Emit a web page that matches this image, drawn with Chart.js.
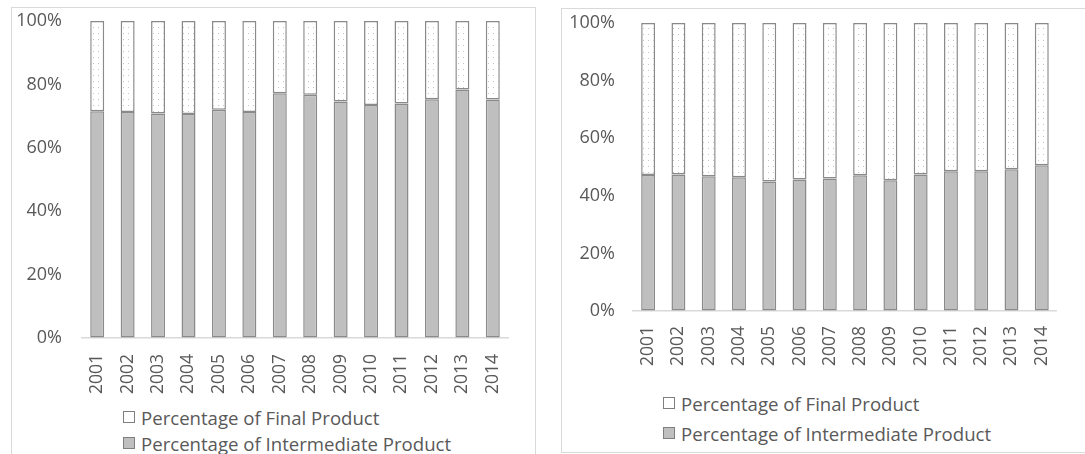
<!DOCTYPE html>
<html>
<head>
<meta charset="utf-8">
<script src="https://cdn.jsdelivr.net/npm/chart.js@4/dist/chart.umd.min.js"></script>
<style>
  body { margin: 0; background: #fff; width: 1085px; height: 454px; overflow: hidden; position: relative; font-family: "Open Sans", sans-serif; }
  .panel { position: absolute; border: 1px solid #d9d9d9; box-sizing: border-box; }
  canvas { position: absolute; }
  .legend { position: absolute; color: #595959; font-size: 18.6px; }
  .legend div { position: absolute; white-space: nowrap; display: flex; align-items: center; height: 26px; }
  .legend span.box { width: 12px; height: 12px; border: 1px solid #7f7f7f; margin-right: 6px; box-sizing: border-box; }
</style>
</head>
<body>
<div class="panel" style="left:11px;top:7px;width:525px;height:460px;"></div>
<div class="panel" style="left:561px;top:8px;width:540px;height:445px;"></div>
<canvas id="chartLeft" width="525" height="395" style="left:11px;top:7px;"></canvas>
<canvas id="chartRight" width="517" height="380" style="left:561px;top:8px;"></canvas>
<div class="legend" id="legendLeft" style="left:123px;top:404px;"></div>
<div class="legend" id="legendRight" style="left:663px;top:390px;"></div>
<script>
var years = ['2001', '2002', '2003', '2004', '2005', '2006', '2007', '2008', '2009', '2010', '2011', '2012', '2013', '2014'];
var yTicks = [0, 20, 40, 60, 80, 100];

// left panel
var interLeft = [71.5, 71.3, 70.8, 70.7, 72.0, 71.3, 77.2, 76.7, 74.6, 73.5, 74.0, 75.3, 78.4, 75.2];
var finalLeft = [28.5, 28.7, 29.2, 29.3, 28.0, 28.7, 22.8, 23.3, 25.4, 26.5, 26.0, 24.7, 21.6, 24.8];

// right panel
var interRight = [47.2, 47.4, 46.8, 46.4, 45.0, 45.7, 46.0, 47.1, 45.4, 47.4, 48.5, 48.5, 49.2, 50.6];
var finalRight = [52.8, 52.6, 53.2, 53.6, 55.0, 54.3, 54.0, 52.9, 54.6, 52.6, 51.5, 51.5, 50.8, 49.4];

var seriesNames = ['Percentage of Final Product', 'Percentage of Intermediate Product'];

var textColor = '#595959';
var grayFill = '#bfbfbf';
var edgeColor = '#8a8a8a';

// white fill with small gray dots for the final product bars
function dotPattern() {
  var c = document.createElement('canvas');
  c.width = 5;
  c.height = 6;
  var g = c.getContext('2d');
  g.fillStyle = '#ffffff';
  g.fillRect(0, 0, 5, 6);
  g.fillStyle = '#c4c4c4';
  g.fillRect(2, 2, 1, 1);
  return g.createPattern(c, 'repeat');
}

function buildChart(id, inter, fin, opts) {
  var ctx = document.getElementById(id).getContext('2d');
  return new Chart(ctx, {
    type: 'bar',
    data: {
      labels: years,
      datasets: [{
        label: seriesNames[1],
        data: inter,
        backgroundColor: grayFill,
        borderColor: edgeColor,
        borderWidth: 1.5,
        borderSkipped: false,
        barPercentage: 0.46,
        categoryPercentage: 1
      }, {
        label: seriesNames[0],
        data: fin,
        backgroundColor: dotPattern(),
        borderColor: edgeColor,
        borderWidth: 1.5,
        borderSkipped: false,
        barPercentage: 0.46,
        categoryPercentage: 1
      }]
    },
    options: {
      responsive: false,
      animation: false,
      layout: { padding: { left: 0, right: opts.padRight, top: opts.padTop, bottom: 0 } },
      plugins: { legend: { display: false }, tooltip: { enabled: false } },
      scales: {
        x: {
          stacked: true,
          grid: { display: false, drawTicks: false },
          border: { display: true, color: '#d9d9d9', width: 1.5 },
          ticks: { color: textColor, font: { family: 'Open Sans', size: 17.5 }, minRotation: 90, maxRotation: 90, padding: opts.xPad },
          afterFit: function(scale) { scale.height = opts.xHeight; }
        },
        y: {
          stacked: true,
          min: 0,
          max: 100,
          afterBuildTicks: function(scale) { scale.ticks = yTicks.map(function(v) { return { value: v }; }); },
          // invisible tick marks keep the labels away from the bars
          grid: { display: true, drawOnChartArea: false, drawTicks: true, tickLength: opts.yGap, color: 'rgba(0,0,0,0)' },
          border: { display: false },
          ticks: { color: textColor, font: { family: 'Open Sans', size: 18 }, padding: 0, callback: function(v) { return v + '%'; } },
          afterFit: function(scale) { scale.width = opts.yWidth; }
        }
      }
    }
  });
}

function buildLegend(el, rowGap) {
  var fills = ['#ffffff', grayFill];
  var html = '';
  for (var i = 0; i < seriesNames.length; i++) {
    html += '<div style="top:' + (i * rowGap) + 'px"><span class="box" style="background:' + fills[i] + '"></span>' + seriesNames[i] + '</div>';
  }
  document.getElementById(el).innerHTML = html;
}

buildChart('chartLeft', interLeft, finalLeft, { padRight: 28, padTop: 14, xHeight: 64, xPad: 16, yGap: 20, yWidth: 71 });
buildChart('chartRight', interRight, finalRight, { padRight: 6, padTop: 15, xHeight: 77, xPad: 15, yGap: 18, yWidth: 72 });
buildLegend('legendLeft', 26);
buildLegend('legendRight', 30);
</script>
</body>
</html>
